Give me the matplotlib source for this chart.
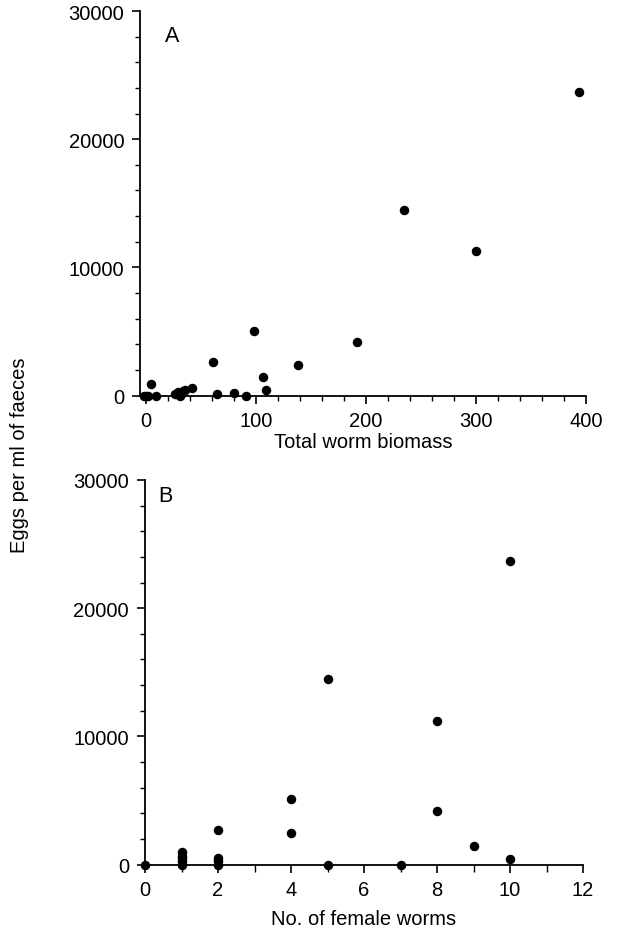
import matplotlib
matplotlib.use("Agg")
import matplotlib.pyplot as plt
from matplotlib.ticker import MultipleLocator

plt.rcParams['font.family'] = ['Liberation Sans', 'DejaVu Sans']

# Panel A: total worm biomass vs eggs per ml of faeces
biomass = [394, 235, 300, 192, 98, 138, 107, 109, 91, 80, 61, 65, 42, 34,
           5, 27, 29, 31, 33, 36, -2, 2, 9, 0]
eggs_a = [23700, 14470, 11250, 4200, 5010, 2380, 1470, 430, 0, 170, 2590,
          80, 560, 380, 880, 100, 300, 0, 180, 420, 0, 0, 0, 0]

# Panel B: number of female worms vs eggs per ml of faeces
females = [10, 5, 8, 4, 8, 4, 2, 9, 10, 5, 7, 1, 1, 1, 1, 1, 2, 2, 2, 0]
eggs_b = [23700, 14450, 11200, 5080, 4200, 2420, 2680, 1450, 420, 0, 0,
          1000, 680, 470, 260, 0, 520, 260, 0, 0]

xticks_a = [0, 100, 200, 300, 400]
xticks_b = [0, 2, 4, 6, 8, 10, 12]
yticks = [0, 10000, 20000, 30000]

W, H = 619, 937
fig = plt.figure(figsize=(W / 100, H / 100), dpi=100)

axA = fig.add_axes([140.2 / W, 1 - 396.5 / H, (586 - 140.2) / W, (396.5 - 12) / H])
axB = fig.add_axes([145 / W, 1 - 865.5 / H, (583 - 145) / W, (865.5 - 481) / H])

fs = 14.5
for ax in (axA, axB):
    for s in ('top', 'right'):
        ax.spines[s].set_visible(False)
    for s in ('left', 'bottom'):
        ax.spines[s].set_linewidth(1.3)
    ax.tick_params(which='major', direction='out', length=5.5, width=1.2,
                   labelsize=fs, pad=6)
    ax.tick_params(which='minor', direction='out', length=3.5, width=1.0)
    ax.set_ylim(0, 30000)
    ax.set_yticks(yticks)
    ax.yaxis.set_minor_locator(MultipleLocator(2000))

axA.scatter(biomass, eggs_a, s=34, color='black', clip_on=False, zorder=3)
axA.set_xlim(-5, 400)
axA.set_xticks(xticks_a)
axA.xaxis.set_minor_locator(MultipleLocator(20))
axA.set_xlabel('Total worm biomass', fontsize=fs, labelpad=1)
axA.text(172 / W, 1 - 37 / H, 'A', transform=fig.transFigure, fontsize=fs + 1,
         ha='center', va='center')

axB.scatter(females, eggs_b, s=34, color='black', clip_on=False, zorder=3)
axB.set_xlim(0, 12)
axB.set_xticks(xticks_b)
axB.xaxis.set_minor_locator(MultipleLocator(1))
axB.tick_params(axis='x', which='minor', length=5)
axB.set_xlabel('No. of female worms', fontsize=fs, labelpad=7)
axB.text(165 / W, 1 - 497 / H, 'B', transform=fig.transFigure, fontsize=fs + 1,
         ha='center', va='center')

fig.text(20 / W, 1 - 455 / H, 'Eggs per ml of faeces', rotation=90,
         fontsize=fs, ha='center', va='center')

fig.savefig('out.png', dpi=100)
